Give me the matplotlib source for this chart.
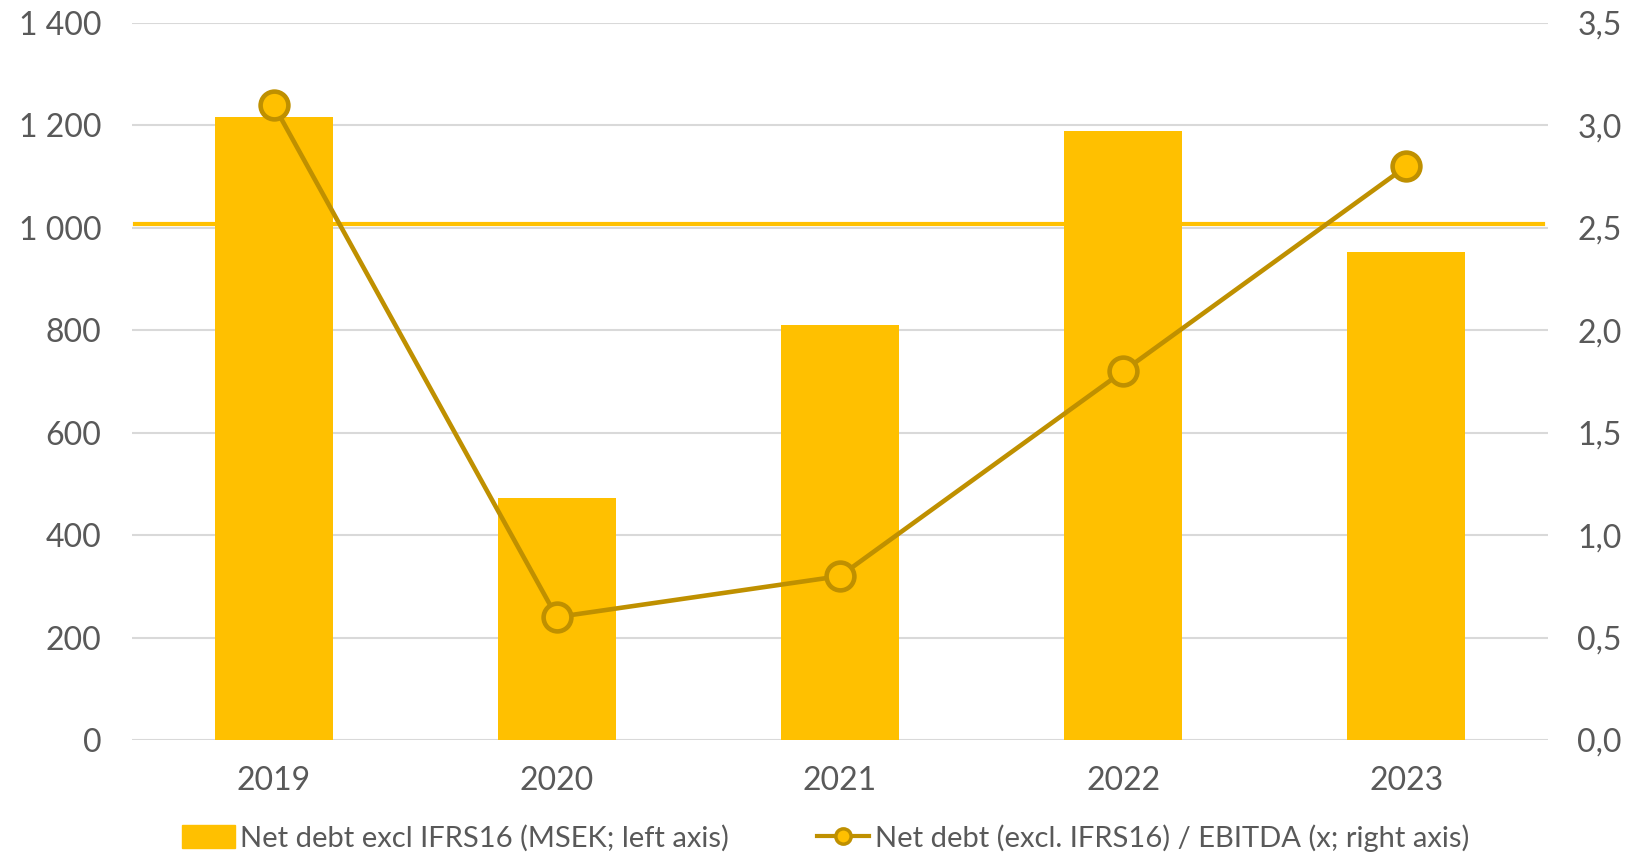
import matplotlib
matplotlib.use("Agg")
import matplotlib.pyplot as plt
from matplotlib.ticker import FuncFormatter
from matplotlib.lines import Line2D
from matplotlib.patches import Patch

years = ["2019", "2020", "2021", "2022", "2023"]
net_debt = [1216, 472, 810, 1189, 953]
ratio = [3.1, 0.6, 0.8, 1.8, 2.8]
threshold_left = 1008
left_ticks = [0, 200, 400, 600, 800, 1000, 1200, 1400]
right_ticks = [0.0, 0.5, 1.0, 1.5, 2.0, 2.5, 3.0, 3.5]
bar_label = "Net debt excl IFRS16 (MSEK; left axis)"
line_label = "Net debt (excl. IFRS16) / EBITDA (x; right axis)"

BAR = "#FFC000"
LINE = "#BF9000"
GRID = "#D9D9D9"
TXT = "#595959"
plt.rcParams['font.family'] = ['Lato', 'DejaVu Sans']

fig = plt.figure(figsize=(16.32, 8.55), dpi=100)
ax = fig.add_axes([0.0809, 0.1345, 0.8676, 0.8386])
x = list(range(len(years)))
ax.bar(x, net_debt, width=0.417, color=BAR, zorder=2)
ax.set_xlim(-0.5, len(years) - 0.5)
ax.set_ylim(0, 1400)
ax.set_yticks(left_ticks)
ax.yaxis.set_major_formatter(FuncFormatter(lambda v, p: f"{int(v):,}".replace(",", " ")))
ax.grid(axis='y', color=GRID, linewidth=1.5, zorder=0)
ax.set_axisbelow(True)
ax.axhline(threshold_left, xmin=0.002, xmax=0.9965, color=BAR, linewidth=3, zorder=1.5)
for s in ax.spines.values():
    s.set_visible(False)
ax.tick_params(axis='y', length=0, pad=22, labelsize=23, labelcolor=TXT)
ax.tick_params(axis='x', length=0, pad=19, labelsize=23, labelcolor=TXT)
ax.set_xticks(x)
ax.set_xticklabels(years)

ax2 = ax.twinx()
ax2.set_ylim(0, 3.5)
ax2.set_yticks(right_ticks)
ax2.yaxis.set_major_formatter(FuncFormatter(lambda v, p: f"{v:.1f}".replace(".", ",")))
for s in ax2.spines.values():
    s.set_visible(False)
ax2.tick_params(axis='y', length=0, pad=21, labelsize=23, labelcolor=TXT)
ax2.plot(x, ratio, color=LINE, linewidth=3.3, marker='o', markersize=20,
         markerfacecolor=BAR, markeredgecolor=LINE, markeredgewidth=3.3, zorder=3)

handles = [Patch(facecolor=BAR, edgecolor=BAR, label=bar_label),
           Line2D([0], [0], color=LINE, linewidth=3, marker='o', markersize=11,
                  markerfacecolor=BAR, markeredgecolor=LINE, markeredgewidth=2.5, label=line_label)]
fig.legend(handles=handles, loc='center', bbox_to_anchor=(0.506, 0.02), ncol=2,
           frameon=False, fontsize=21, labelcolor=TXT, handlelength=1.8, handletextpad=0.2,
           columnspacing=3.0, handleheight=0.8)

fig.savefig("out.png", dpi=100)
